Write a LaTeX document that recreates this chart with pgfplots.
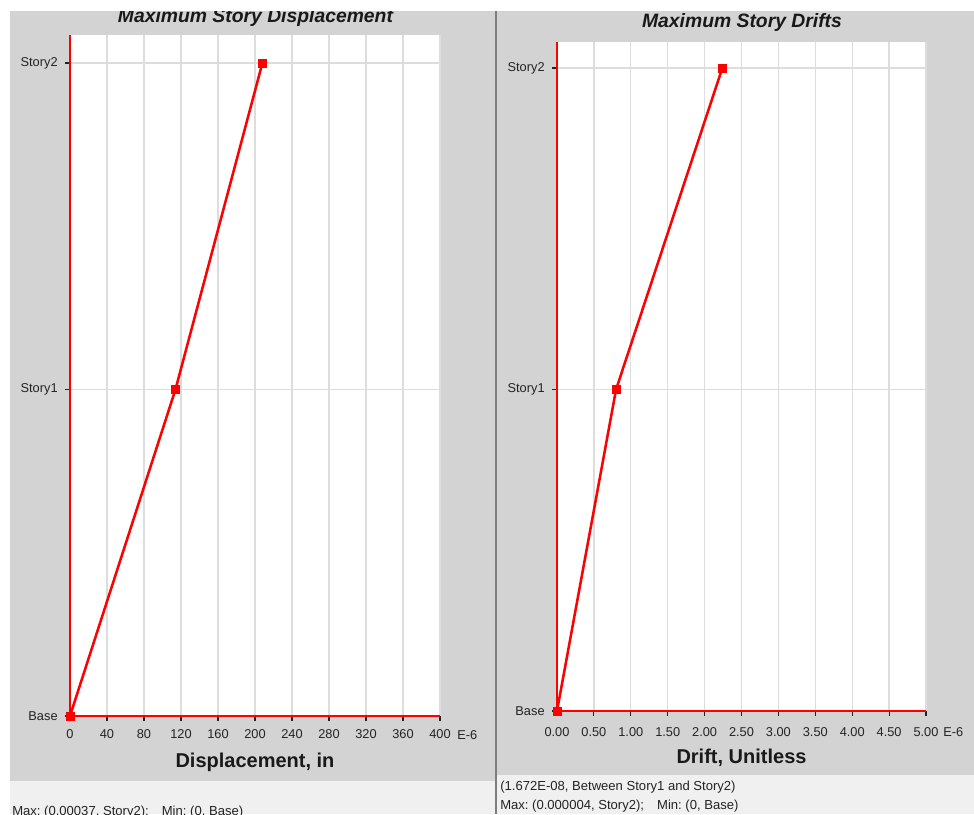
\documentclass[border=0pt]{standalone}
\usepackage{pgfplots}
\pgfplotsset{compat=1.18}
\usepackage{fontspec}
\setmainfont{Liberation Sans}
\frenchspacing

\definecolor{panelgray}{RGB}{211,211,211}
\definecolor{stripgray}{RGB}{240,240,240}
\definecolor{gridgray}{RGB}{221,221,221}
\definecolor{divider}{RGB}{125,125,125}
\definecolor{labelgray}{RGB}{35,35,35}

\pgfplotsset{
  storyplot/.style={
    scale only axis,
    anchor=south west,
    axis background/.style={fill=white},
    axis x line*=bottom,
    axis y line*=left,
    axis line style={red, line width=1pt, -},
    tick align=outside,
    major tick length=3.75pt,
    tick style={labelgray, line width=0.8pt},
    grid=major,
    major grid style={gridgray, line width=1pt},
    ymin=0, ytick={0,1,2},
    yticklabels={Base,Story1,Story2},
    ticklabel style={font=\fontsize{9.6}{11}\selectfont, text=labelgray},
    yticklabel style={xshift=-2pt},
    /pgf/number format/assume math mode=true,
    clip=false,
  },
  storyline/.style={red, line width=1.9pt, mark=square*, mark size=2.9pt,
    mark options={solid, fill=red, line width=0.4pt}},
}

\begin{document}
\begin{tikzpicture}
  \path[use as bounding box] (0,0) rectangle (730.5pt,610.5pt);
  \clip (0,0) rectangle (730.5pt,610.5pt);

  \begin{scope}[x=0.75pt, y=0.75pt]
    \fill[white] (0,0) rectangle (974,814);
    % panel backgrounds
    \fill[panelgray] (10,33) rectangle (495,803);
    \fill[panelgray] (497,39) rectangle (974,803);
    \fill[stripgray] (10,0) rectangle (495,33);
    \fill[stripgray] (497,0) rectangle (974,39);
    % titles (left one is partly hidden by the top margin)
    \node[anchor=base, font=\fontsize{14.5}{16}\selectfont\bfseries\itshape, text=black!90]
      at (255.5,791) {Maximum Story Displacement};
    \node[anchor=base, font=\fontsize{14.5}{16}\selectfont\bfseries\itshape, text=black!90]
      at (742,786.5) {Maximum Story Drifts};
    \fill[white] (0,803) rectangle (974,814);
  \end{scope}

  % left: story displacement (values in units of 1e-6 in)
  \begin{axis}[storyplot, at={(52.5pt,73.5pt)},
      width=277.5pt, height=510.75pt,
      xmin=0, xmax=400, ymax=2.0858,
      xtick={0,40,80,120,160,200,240,280,320,360,400},
      xticklabel style={yshift=-3pt}]
    \addplot[storyline] coordinates {(0,0) (114,1) (208,2)};
  \end{axis}

  % right: story drifts (values in units of 1e-6)
  \begin{axis}[storyplot, at={(417.75pt,77.25pt)},
      width=276.75pt, height=501.75pt,
      xmin=0, xmax=5, ymax=2.081,
      xtick={0,0.5,1,1.5,2,2.5,3,3.5,4,4.5,5},
      xticklabel style={yshift=-5.5pt,
        /pgf/number format/.cd, fixed, fixed zerofill, precision=2}]
    \addplot[storyline] coordinates {(0,0) (0.80,1) (2.24,2)};
  \end{axis}

  \begin{scope}[x=0.75pt, y=0.75pt]
    % exponent markers
    \node[anchor=west, inner sep=0pt, font=\fontsize{9.6}{11}\selectfont, text=labelgray] at (457,79) {E-6};
    \node[anchor=west, inner sep=0pt, font=\fontsize{9.6}{11}\selectfont, text=labelgray] at (943,82) {E-6};
    % axis titles
    \node[anchor=base, font=\fontsize{15}{17}\selectfont\bfseries, text=black!90]
      at (255,47) {Displacement, in};
    \node[anchor=base, font=\fontsize{15}{17}\selectfont\bfseries, text=black!90]
      at (741.5,51) {Drift, Unitless};
    % divider between panels
    \draw[divider, line width=1.1pt] (496,0) -- (496,803);
    % status lines
    \node[anchor=base west, inner sep=0pt, font=\fontsize{9.8}{11}\selectfont, text=labelgray]
      at (12,-1) {Max: (0.00037, Story2);\quad Min: (0, Base)};
    \node[anchor=base west, inner sep=0pt, font=\fontsize{9.8}{11}\selectfont, text=labelgray]
      at (500,24) {(1.672E-08, Between Story1 and Story2)};
    \node[anchor=base west, inner sep=0pt, font=\fontsize{9.8}{11}\selectfont, text=labelgray]
      at (500,5) {Max: (0.000004, Story2);\quad Min: (0, Base)};
  \end{scope}
\end{tikzpicture}
\end{document}
